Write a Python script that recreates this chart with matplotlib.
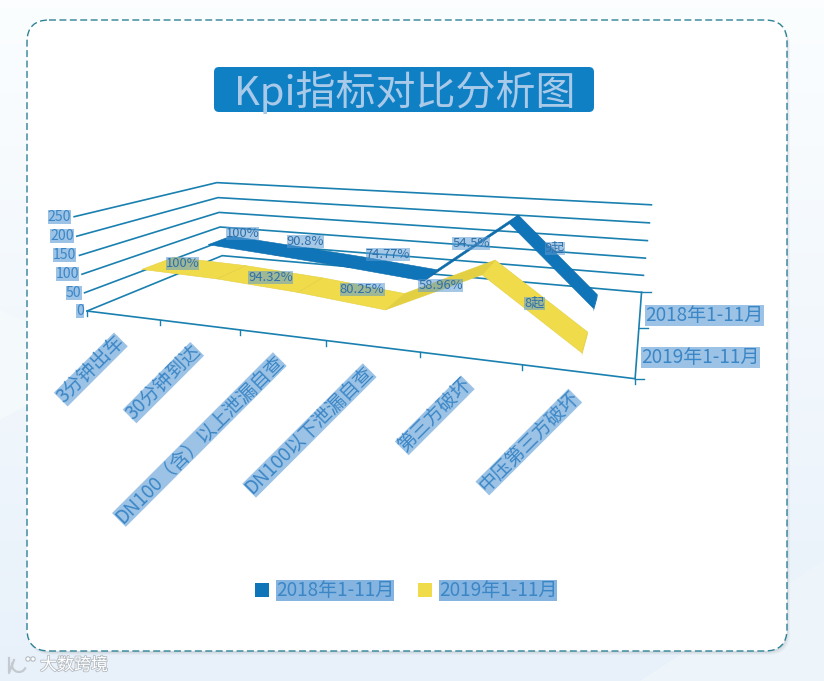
import numpy as np
import matplotlib
matplotlib.use("Agg")
import matplotlib.pyplot as plt
import matplotlib.patheffects as pe
from matplotlib.patches import FancyBboxPatch, Polygon, Rectangle, Circle, Arc

plt.rcParams['font.family'] = ['Noto Sans CJK SC', 'DejaVu Sans']

categories = ['3分钟出车', '30分钟到达', 'DN100（含）以上泄漏自查', 'DN100以下泄漏自查', '第三方破坏', '中压第三方破坏']
series_names = ['2018年1-11月', '2019年1-11月']
values_2018 = [100, 84, 67, 47, 222, 15]
values_2019 = [100, 94.32, 80.25, 58.96, 165, 8]
labels_2018 = ['100%', '90.8%', '74.77%', '54.5%', '9起']
labels_2019 = ['100%', '94.32%', '80.25%', '58.96%', '8起']
value_ticks = [0, 50, 100, 150, 200, 250]

BLUE, BLUE_D = '#0F75B8', '#0E6CAB'
YEL, YEL_D = '#F0DC4A', '#E3CF42'
LINE = '#1A80B0'
TXT = '#3B86C6'
SEL = '#5B9BD5'

W, H = 824, 681
fig = plt.figure(figsize=(W / 100, H / 100), dpi=100)
ax = fig.add_axes([0, 0, 1, 1])
ax.set_xlim(0, W)
ax.set_ylim(H, 0)
ax.axis('off')
px = 0.72  # font pixels -> points
TIGHT = 'square,pad=0'
NARROW = 'square,pad=-0.04'

# chart-space calibration: (position along categories, value, depth) -> picture
calib = [
    ((0, 0, 0), (86, 311)), ((0, 250, 0), (76, 216)),
    ((0, 0, 1), (224, 255)), ((0, 250, 1), (215, 183)),
    ((1, 0, 0), (635, 378)), ((1, 0, 1), (641, 292.5)), ((1, 250, 1), (652, 205)),
    ((1 / 6, 0, 0), (160, 320.7)), ((2 / 6, 0, 0), (239, 330)),
    ((3 / 6, 0, 0), (326, 342)), ((4 / 6, 0, 0), (420, 352)), ((5 / 6, 0, 0), (522.7, 364)),
]
A, b = [], []
for (u, v, w), (x, y) in calib:
    v = v / 250
    A.append([u, v, w, 1, 0, 0, 0, 0, -x * u, -x * v, -x * w]); b.append(x)
    A.append([0, 0, 0, 0, u, v, w, 1, -y * u, -y * v, -y * w]); b.append(y)
p = np.linalg.lstsq(np.array(A), np.array(b), rcond=None)[0]


def proj(u, v, w):
    v = v / 250
    d = p[8] * u + p[9] * v + p[10] * w + 1
    return ((p[0] * u + p[1] * v + p[2] * w + p[3]) / d,
            (p[4] * u + p[5] * v + p[6] * w + p[7]) / d)


# page background
grad = np.linspace(0, 1, 256)[:, None]
ax.imshow(np.dstack([0.985 - 0.075 * grad, 0.995 - 0.05 * grad, 1.0 - 0.02 * grad]),
          extent=[0, W, H, 0], aspect='auto', zorder=0)
ax.add_patch(Polygon([(0, 310), (110, 360), (0, 420)], fc='#F4F9FC', ec='none', zorder=0.5))
ax.add_patch(Polygon([(824, 560), (824, 681), (640, 681)], fc='#EDF4FA', ec='none', zorder=0.5))
# card
for off, al in ((4, .10), (3, .14), (2, .2)):
    ax.add_patch(FancyBboxPatch((27 + off - 1, 20 + off), 760, 631, boxstyle='round,pad=0,rounding_size=22',
                                fc='#AEB6BD', ec='none', alpha=al, zorder=1))
ax.add_patch(FancyBboxPatch((27, 20), 760, 631, boxstyle='round,pad=0,rounding_size=22',
                            fc='white', ec='#2E8296', lw=1.0, ls=(0, (5, 2.5)), zorder=2))
# title
ax.add_patch(FancyBboxPatch((214, 67), 380, 45, boxstyle='round,pad=0,rounding_size=5',
                            fc='#1080C4', ec='none', zorder=3))
ax.text(405, 92, 'Kpi指标对比分析图', color='#A9C9E8', fontsize=40 * px, ha='center', va='center', zorder=4)

Z = 5
for v in value_ticks:
    pts = [proj(0, v, 0), proj(0, v, 1), proj(1, v, 1)]
    ax.plot(*zip(*pts), color=LINE, lw=1.2, zorder=Z, solid_joinstyle='miter')
    x, y = proj(0, v, 0)
    ax.text(x - 3, y, str(v), color=TXT, fontsize=14 * px, ha='right', va='center', zorder=9,
            bbox=dict(boxstyle=TIGHT, fc=SEL, ec='none', alpha=0.6))
ax.plot(*zip(proj(0, 0, 0), proj(1, 0, 0), proj(1, 0, 1)), color=LINE, lw=1.2, zorder=Z)
for i in range(7):
    x, y = proj(i / 6, 0, 0)
    ax.plot([x, x], [y, y + 5], color=LINE, lw=1, zorder=Z)
for w in (0, .5, 1):
    x, y = proj(1, 0, w)
    ax.plot([x, x + 9], [y, y], color=LINE, lw=1, zorder=Z)

for i, c in enumerate(categories):
    x, y = proj((i + .5) / 6, 0, 0)
    ax.text(x - 9, y + 16, c, color=TXT, fontsize=19 * px, rotation=45, ha='right', va='top',
            rotation_mode='anchor', zorder=9, bbox=dict(boxstyle=NARROW, fc=SEL, ec='none', alpha=0.6))


def ribbon(vals, w0, w1, col, dark, z):
    for i in range(len(vals) - 1):
        u0, u1 = (i + .5) / 6, (i + 1.5) / 6
        q = [proj(u0, vals[i], w0), proj(u1, vals[i + 1], w0), proj(u1, vals[i + 1], w1), proj(u0, vals[i], w1)]
        rising = vals[i + 1] > vals[i]
        ax.add_patch(Polygon(q, fc=dark if rising else col, ec=dark, lw=0.4, zorder=z + (len(vals) - i) * .01))
    xa, ya = proj((len(vals) - .5) / 6, vals[-1], w0)
    xb, yb = proj((len(vals) - .5) / 6, vals[-1], w1)
    ax.add_patch(Polygon([(xa, ya), (xb, yb), (xb, yb + 3), (xa, ya + 3)], fc=dark, ec='none', zorder=z + .5))


ribbon(values_2018, .62, .82, BLUE, BLUE_D, 6)
ribbon(values_2019, .14, .36, YEL, YEL_D, 7)

nudge_2018 = [(-10, -8), (-15, -11), (-5, -10), (0, -1), (0, -8)]
nudge_2019 = [(-12, 0), (0, 3), (10, 1), (0, 5), (-2, 3)]


def point_labels(vals, labs, w, nudges):
    for i, (t, (dx, dy)) in enumerate(zip(labs, nudges)):
        x, y = proj((i + 1) / 6, (vals[i] + vals[i + 1]) / 2, w)
        ax.text(x + dx, y - 4 + dy, t, color='#2F6FA8', fontsize=13 * px, ha='center', va='center', zorder=9,
                bbox=dict(boxstyle=TIGHT, fc=SEL, ec='none', alpha=0.55))


point_labels(values_2018, labels_2018, .72, nudge_2018)
point_labels(values_2019, labels_2019, .25, nudge_2019)

for name, w, dx, dy in zip(series_names, (.75, .25), (5, 4), (7, 6)):
    x, y = proj(1, 0, w)
    ax.text(x + dx, y + dy, name, color=TXT, fontsize=19 * px, ha='left', va='center', zorder=9,
            bbox=dict(boxstyle=TIGHT, fc=SEL, ec='none', alpha=0.6))

for name, col, x0 in zip(series_names, (BLUE, YEL), (255, 418)):
    ax.add_patch(Rectangle((x0, 583), 14, 14, fc=col, ec='none', zorder=9))
    ax.text(x0 + 21, 590, name, color=TXT, fontsize=19 * px, ha='left', va='center', zorder=9,
            bbox=dict(boxstyle=TIGHT, fc=SEL, ec='none', alpha=0.75))

# watermark
halo = [pe.withStroke(linewidth=1.2, foreground='#B4BBC2')]
ax.text(40, 665, '大数跨境', color='#FFFFFF', fontsize=17 * px, ha='left', va='center', zorder=9, path_effects=halo)
ax.plot([9, 9, 14], [658, 673, 660], color='#C4CAD0', lw=1.6, zorder=9)
ax.add_patch(Arc((19, 665), 14, 14, theta1=20, theta2=200, color='#C4CAD0', lw=1.6, zorder=9))
for cx in (28, 33):
    ax.add_patch(Circle((cx, 659), 2.2, fc='white', ec='#B4BBC2', lw=0.8, zorder=9))

fig.savefig('out.png', dpi=100)
